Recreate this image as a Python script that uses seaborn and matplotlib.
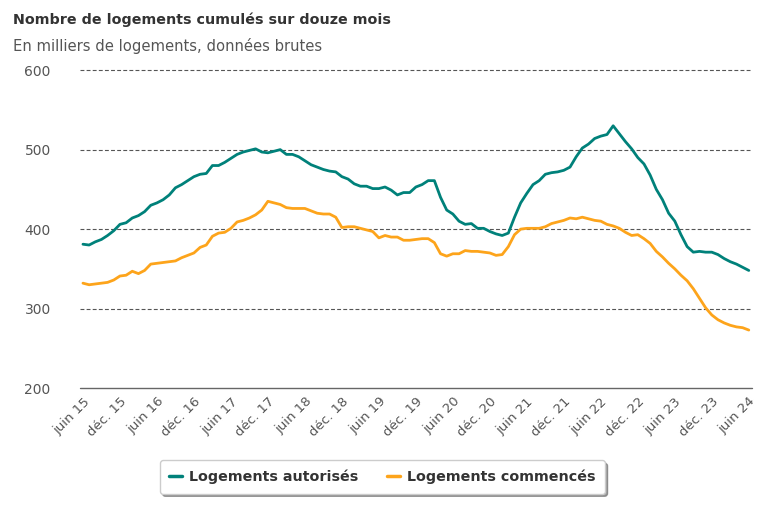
import pandas as pd
import matplotlib.pyplot as plt
import seaborn as sns

# Monthly values, June 2015 -> June 2024 (thousands of dwellings, 12-month rolling sum)
autorises = [
    381, 380, 384, 387, 392, 398, 406, 408, 414, 417, 422, 430,
    433, 437, 443, 452, 456, 461, 466, 469, 470, 480, 480, 484,
    489, 494, 497, 499, 501, 497, 496, 498, 500, 494, 494, 491,
    486, 481, 478, 475, 473, 472, 466, 463, 457, 454, 454, 451,
    451, 453, 449, 443, 446, 446, 453, 456, 461, 461, 440, 424,
    419, 410, 406, 407, 401, 401, 397, 394, 392, 395, 415, 433,
    445, 456, 461, 469, 471, 472, 474, 478, 491, 502, 507, 514,
    517, 519, 530, 520, 510, 501, 490, 482, 468, 450, 437, 420,
    410, 393, 378, 371, 372, 371, 371, 368, 363, 359, 356, 352,
    348,
]
commences = [
    332, 330, 331, 332, 333, 336, 341, 342, 347, 344, 348, 356,
    357, 358, 359, 360, 364, 367, 370, 377, 380, 391, 395, 396,
    401, 409, 411, 414, 418, 424, 435, 433, 431, 427, 426, 426,
    426, 423, 420, 419, 419, 415, 402, 403, 403, 401, 399, 397,
    389, 392, 390, 390, 386, 386, 387, 388, 388, 383, 369, 366,
    369, 369, 373, 372, 372, 371, 370, 367, 368, 378, 393, 400,
    401, 401, 401, 403, 407, 409, 411, 414, 413, 415, 413, 411,
    410, 406, 404, 401, 396, 392, 393, 388, 382, 372, 365, 357,
    350, 342, 335, 325, 313, 301, 292, 286, 282, 279, 277, 276,
    273,
]
tick_labels = ["juin 15", "déc. 15", "juin 16", "déc. 16", "juin 17", "déc. 17",
               "juin 18", "déc. 18", "juin 19", "déc. 19", "juin 20", "déc. 20",
               "juin 21", "déc. 21", "juin 22", "déc. 22", "juin 23", "déc. 23",
               "juin 24"]
series_names = ["Logements autorisés", "Logements commencés"]
colors = ["#00817a", "#fda41b"]

months = list(range(len(autorises)))
df = pd.DataFrame({
    "mois": months * 2,
    "valeur": autorises + commences,
    "serie": [series_names[0]] * len(autorises) + [series_names[1]] * len(commences),
})

sns.set_theme(style="white")
plt.rcParams["font.family"] = ["DejaVu Sans"]

fig = plt.figure(figsize=(7.68, 5.12), dpi=100)
ax = fig.add_axes([0.104, 0.242, 0.875, 0.621])

sns.lineplot(data=df, x="mois", y="valeur", hue="serie", palette=colors,
             linewidth=2.0, ax=ax, legend=True)

ax.set_xlim(-0.5, 108.5)
ax.set_ylim(200, 600)
ax.set_yticks([200, 300, 400, 500, 600])
ax.set_xticks(range(0, 109, 6))
ax.set_xticklabels(tick_labels, rotation=45, ha="right", rotation_mode="anchor",
                   fontsize=9.5, color="#555555")
ax.tick_params(axis="y", labelsize=10, labelcolor="#555555", length=0, pad=21)
ax.tick_params(axis="x", length=0, pad=5)
ax.set_xlabel("")
ax.set_ylabel("")

for y in [300, 400, 500]:
    ax.axhline(y, color="#555555", linestyle=(0, (3.5, 2)), linewidth=0.8, zorder=0)
ax.axhline(600, color="#555555", linestyle=(0, (3.5, 2)), linewidth=0.8, zorder=0,
           clip_on=False)
ax.axhline(200, color="#666666", linewidth=1.0, zorder=0, clip_on=False)
for s in ax.spines.values():
    s.set_visible(False)

leg = ax.legend(loc="upper center", bbox_to_anchor=(0.45, -0.205), ncol=2,
                frameon=True, fancybox=True, shadow=True, fontsize=10.3,
                handlelength=0.9, handletextpad=0.5, columnspacing=2.0,
                borderpad=0.65)
leg.get_frame().set_edgecolor("#cccccc")
for t in leg.get_texts():
    t.set_fontweight("bold")
    t.set_color("#333333")
for line in leg.get_lines():
    line.set_linewidth(2.5)

fig.text(0.017, 0.962, "Nombre de logements cumulés sur douze mois",
         fontsize=10.3, fontweight="bold", color="#333333", va="center")
fig.text(0.017, 0.911, "En milliers de logements, données brutes",
         fontsize=10.6, color="#555555", va="center")

fig.savefig("out.png", dpi=100)
